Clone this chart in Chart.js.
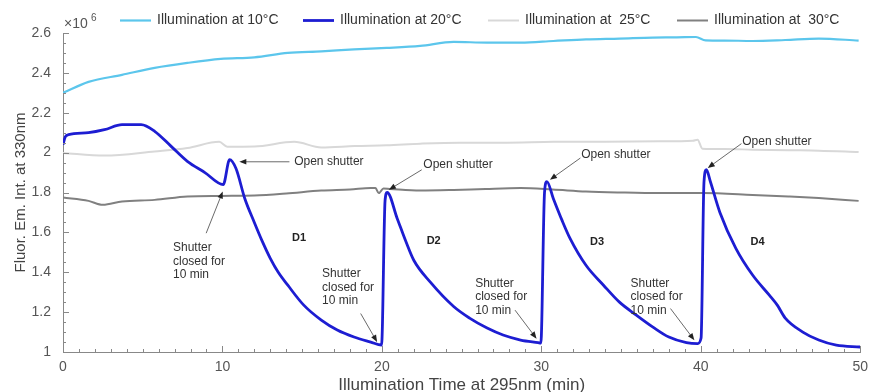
<!DOCTYPE html>
<html>
<head>
<meta charset="utf-8">
<script src="https://cdn.jsdelivr.net/npm/chart.js@4.4.0/dist/chart.umd.min.js"></script>
<style>
  html, body { margin: 0; padding: 0; background: #fff; }
</style>
</head>
<body>
<canvas id="fluorChart" width="875" height="392"></canvas>
<script>
// Readings taken off the figure (time in min, intensity in units of 10^6)
const time10 = [0, 1.6, 3.7, 5.75, 7.8, 9.9, 12, 14.1, 16.2, 18.25, 20.3, 22.4, 24.5, 26.6, 28.7, 30.75, 32.8, 34.9, 37, 38.5, 39.7, 40.3, 41.5, 43.25, 45.3, 47.4, 49.9];
const fluor10 = [2.30, 2.355, 2.39, 2.425, 2.45, 2.47, 2.478, 2.50, 2.508, 2.518, 2.525, 2.535, 2.555, 2.552, 2.552, 2.56, 2.568, 2.572, 2.577, 2.578, 2.58, 2.563, 2.562, 2.56, 2.565, 2.572, 2.562];

const time20 = [0, 0.15, 0.35, 1.6, 2.6, 3.7, 4.9, 5.75, 6.8, 7.8, 8.9, 10.05, 10.45, 10.85, 11.4, 12, 12.5, 13, 13.5, 14.1, 15.1, 16.2, 17.2, 18.25, 19.3, 19.98,
  20.2, 20.33, 20.96, 21.5, 22, 23.04, 24.5, 25.5, 26.6, 27.6, 28.7, 29.8, 29.97,
  30.2, 30.35, 30.75, 31.3, 31.8, 32.8, 33.9, 34.9, 35.96, 37, 38, 39.1, 39.8, 40.02,
  40.2, 40.35, 40.6, 41.2, 42.2, 43.25, 44.3, 44.8, 45.3, 46.4, 47.4, 48.5, 50];
const fluor20 = [2.04, 2.08, 2.09, 2.10, 2.115, 2.14, 2.14, 2.107, 2.03, 1.956, 1.90, 1.84, 1.965, 1.92, 1.77, 1.65, 1.555, 1.47, 1.40, 1.335, 1.235, 1.16, 1.11, 1.075, 1.05, 1.035,
  1.76, 1.80, 1.67, 1.555, 1.46, 1.35, 1.228, 1.17, 1.12, 1.085, 1.06, 1.047, 1.045,
  1.80, 1.855, 1.77, 1.66, 1.57, 1.435, 1.335, 1.25, 1.185, 1.125, 1.075, 1.047, 1.042, 1.07,
  1.85, 1.914, 1.855, 1.70, 1.52, 1.386, 1.285, 1.235, 1.17, 1.10, 1.06, 1.034, 1.025];

const time25 = [0, 2.6, 5.75, 7.8, 9.8, 10.3, 12, 14.5, 16.2, 18.3, 20.3, 22.4, 24.9, 27.5, 30.75, 34, 37.4, 39.5, 39.8, 40.1, 41.5, 43.25, 45.5, 47.4, 49.9];
const fluor25 = [1.998, 1.985, 2.006, 2.023, 2.054, 2.03, 2.031, 2.054, 2.026, 2.033, 2.037, 2.045, 2.05, 2.05, 2.054, 2.055, 2.057, 2.06, 2.065, 2.02, 2.018, 2.015, 2.012, 2.01, 2.003];

const time30 = [0, 1.6, 2.5, 3.7, 5.75, 7.8, 9.9, 12, 14, 16.2, 18, 19.3, 19.6, 19.8, 20.1, 20.5, 22.4, 24.5, 26.5, 28.7, 30.7, 32.8, 35, 37.4, 40.1, 43.25, 45.5, 47.4, 49.9];
const fluor30 = [1.775, 1.758, 1.738, 1.755, 1.763, 1.78, 1.783, 1.785, 1.795, 1.81, 1.815, 1.822, 1.822, 1.797, 1.82, 1.818, 1.81, 1.813, 1.818, 1.822, 1.815, 1.805, 1.80, 1.797, 1.797, 1.788, 1.78, 1.772, 1.758];

const seriesLabels = ['Illumination at 10\u00B0C', 'Illumination at 20\u00B0C', 'Illumination at  25\u00B0C', 'Illumination at  30\u00B0C'];
const xTicks = [0, 10, 20, 30, 40, 50];
const yTicks = [1, 1.2, 1.4, 1.6, 1.8, 2, 2.2, 2.4, 2.6];

// Annotations in data coordinates
const notes = [
  { lines: ['Open shutter'], at: [14.5, 1.954], from: [14.2, 1.954], to: [11.06, 1.954] },
  { lines: ['Shutter', 'closed for', '10 min'], at: [6.9, 1.522], from: [8.98, 1.596], to: [10.02, 1.805] },
  { lines: ['Open shutter'], at: [22.6, 1.94], from: [22.5, 1.914], to: [20.44, 1.814] },
  { lines: ['Shutter', 'closed for', '10 min'], at: [16.25, 1.391], from: [18.67, 1.193], to: [19.7, 1.05] },
  { lines: ['Open shutter'], at: [32.5, 1.99], from: [32.45, 1.973], to: [30.54, 1.864] },
  { lines: ['Shutter', 'closed for', '10 min'], at: [25.85, 1.344], from: [28.35, 1.21], to: [29.7, 1.067] },
  { lines: ['Open shutter'], at: [42.6, 2.057], from: [42.55, 2.045], to: [40.44, 1.923] },
  { lines: ['Shutter', 'closed for', '10 min'], at: [35.6, 1.344], from: [38.1, 1.218], to: [39.6, 1.059] }
];
const decayLabels = [['D1', 14.8, 1.57], ['D2', 23.25, 1.557], ['D3', 33.5, 1.553], ['D4', 43.56, 1.553]];

const FONT = '"Liberation Sans", Arial, sans-serif';

function toPoints(xs, ys) {
  return xs.map((x, i) => ({ x: x, y: ys[i] }));
}

function drawArrow(ctx, x1, y1, x2, y2) {
  const ang = Math.atan2(y2 - y1, x2 - x1);
  const len = 7, half = 2.8;
  ctx.beginPath();
  ctx.moveTo(x1, y1);
  ctx.lineTo(x2 - Math.cos(ang) * len * 0.8, y2 - Math.sin(ang) * len * 0.8);
  ctx.stroke();
  ctx.beginPath();
  ctx.moveTo(x2, y2);
  ctx.lineTo(x2 - Math.cos(ang) * len - Math.sin(ang) * half, y2 - Math.sin(ang) * len + Math.cos(ang) * half);
  ctx.lineTo(x2 - Math.cos(ang) * len + Math.sin(ang) * half, y2 - Math.sin(ang) * len - Math.cos(ang) * half);
  ctx.closePath();
  ctx.fill();
}

// Inward ticks, legend, exponent and annotations
const extrasPlugin = {
  id: 'extras',
  afterDraw(chart) {
    const ctx = chart.ctx;
    const xs = chart.scales.x, ys = chart.scales.y;
    const area = chart.chartArea;
    ctx.save();

    // minor/major ticks pointing into the plot
    ctx.strokeStyle = '#888';
    ctx.lineWidth = 1;
    ctx.beginPath();
    for (let i = 0; i <= 50; i++) {
      const px = Math.round(xs.getPixelForValue(i)) + 0.5;
      const l = i % 10 === 0 ? 6 : 3;
      ctx.moveTo(px, area.bottom);
      ctx.lineTo(px, area.bottom - l);
    }
    for (let j = 0; j <= 32; j++) {
      const py = Math.round(ys.getPixelForValue(1 + j * 0.05)) + 0.5;
      const l = j % 4 === 0 ? 6 : 3;
      ctx.moveTo(area.left, py);
      ctx.lineTo(area.left + l, py);
    }
    ctx.stroke();

    // x10^6 exponent
    ctx.fillStyle = '#555';
    ctx.textBaseline = 'alphabetic';
    ctx.textAlign = 'left';
    ctx.font = '14px ' + FONT;
    ctx.fillText('\u00D710', 64, 28);
    ctx.font = '10px ' + FONT;
    ctx.fillText('6', 91, 21);

    // legend
    const sampleX = [120, 303, 488, 677];
    ctx.font = '14px ' + FONT;
    ctx.textBaseline = 'middle';
    chart.data.datasets.forEach((ds, i) => {
      ctx.strokeStyle = ds.borderColor;
      ctx.lineWidth = ds.borderWidth;
      ctx.beginPath();
      ctx.moveTo(sampleX[i], 20.5);
      ctx.lineTo(sampleX[i] + 31, 20.5);
      ctx.stroke();
      ctx.fillStyle = '#333';
      ctx.fillText(ds.label, sampleX[i] + 37, 20);
    });

    // annotations
    ctx.strokeStyle = '#444';
    ctx.fillStyle = '#222';
    ctx.lineWidth = 0.8;
    notes.forEach(n => {
      drawArrow(ctx,
        xs.getPixelForValue(n.from[0]), ys.getPixelForValue(n.from[1]),
        xs.getPixelForValue(n.to[0]), ys.getPixelForValue(n.to[1]));
    });
    ctx.font = '12px ' + FONT;
    ctx.fillStyle = '#333';
    ctx.textAlign = 'left';
    notes.forEach(n => {
      const px = xs.getPixelForValue(n.at[0]);
      const py = ys.getPixelForValue(n.at[1]);
      n.lines.forEach((t, k) => ctx.fillText(t, px, py + k * 13.5));
    });
    ctx.font = 'bold 11px ' + FONT;
    ctx.textAlign = 'center';
    ctx.fillStyle = '#222';
    decayLabels.forEach(d => {
      ctx.fillText(d[0], xs.getPixelForValue(d[1]), ys.getPixelForValue(d[2]));
    });
    ctx.restore();
  }
};

const ctx = document.getElementById('fluorChart').getContext('2d');
const fluorChart = new Chart(ctx, {
  type: 'line',
  data: {
    datasets: [{
      label: seriesLabels[0],
      data: toPoints(time10, fluor10),
      borderColor: '#5cc6ec',
      borderWidth: 2.2
    }, {
      label: seriesLabels[1],
      data: toPoints(time20, fluor20),
      borderColor: '#1d1dd2',
      borderWidth: 2.8
    }, {
      label: seriesLabels[2],
      data: toPoints(time25, fluor25),
      borderColor: '#d8d8d8',
      borderWidth: 2
    }, {
      label: seriesLabels[3],
      data: toPoints(time30, fluor30),
      borderColor: '#808080',
      borderWidth: 2
    }]
  },
  options: {
    responsive: false,
    animation: false,
    layout: { padding: { top: 33, right: 12, left: 0, bottom: 0 } },
    elements: {
      point: { radius: 0 },
      line: { cubicInterpolationMode: 'monotone', fill: false }
    },
    plugins: {
      legend: { display: false },
      tooltip: { enabled: false }
    },
    scales: {
      x: {
        type: 'linear',
        min: 0,
        max: 50,
        afterBuildTicks: s => { s.ticks = xTicks.map(v => ({ value: v })); },
        afterFit: s => { s.height = 40; },
        grid: { display: false, drawTicks: false },
        border: { display: true, color: '#888', width: 1 },
        ticks: { padding: 7, color: '#555', font: { family: FONT, size: 14 }, maxRotation: 0 },
        title: {
          display: true,
          text: 'Illumination Time at 295nm (min)',
          color: '#444',
          padding: { top: 0, bottom: 0 },
          font: { family: FONT, size: 17, lineHeight: 0.8 }
        }
      },
      y: {
        type: 'linear',
        min: 1,
        max: 2.6,
        afterBuildTicks: s => { s.ticks = yTicks.map(v => ({ value: v })); },
        afterFit: s => { s.width = 63; },
        grid: { display: false, drawTicks: false },
        border: { display: true, color: '#888', width: 1 },
        ticks: {
          padding: 12,
          color: '#555',
          font: { family: FONT, size: 14 },
          callback: v => String(+v.toFixed(1))
        },
        title: {
          display: true,
          text: 'Fluor. Em. Int. at 330nm',
          color: '#444',
          padding: { top: 13, bottom: 0 },
          font: { family: FONT, size: 15, lineHeight: 1 }
        }
      }
    }
  },
  plugins: [extrasPlugin]
});
</script>
</body>
</html>
